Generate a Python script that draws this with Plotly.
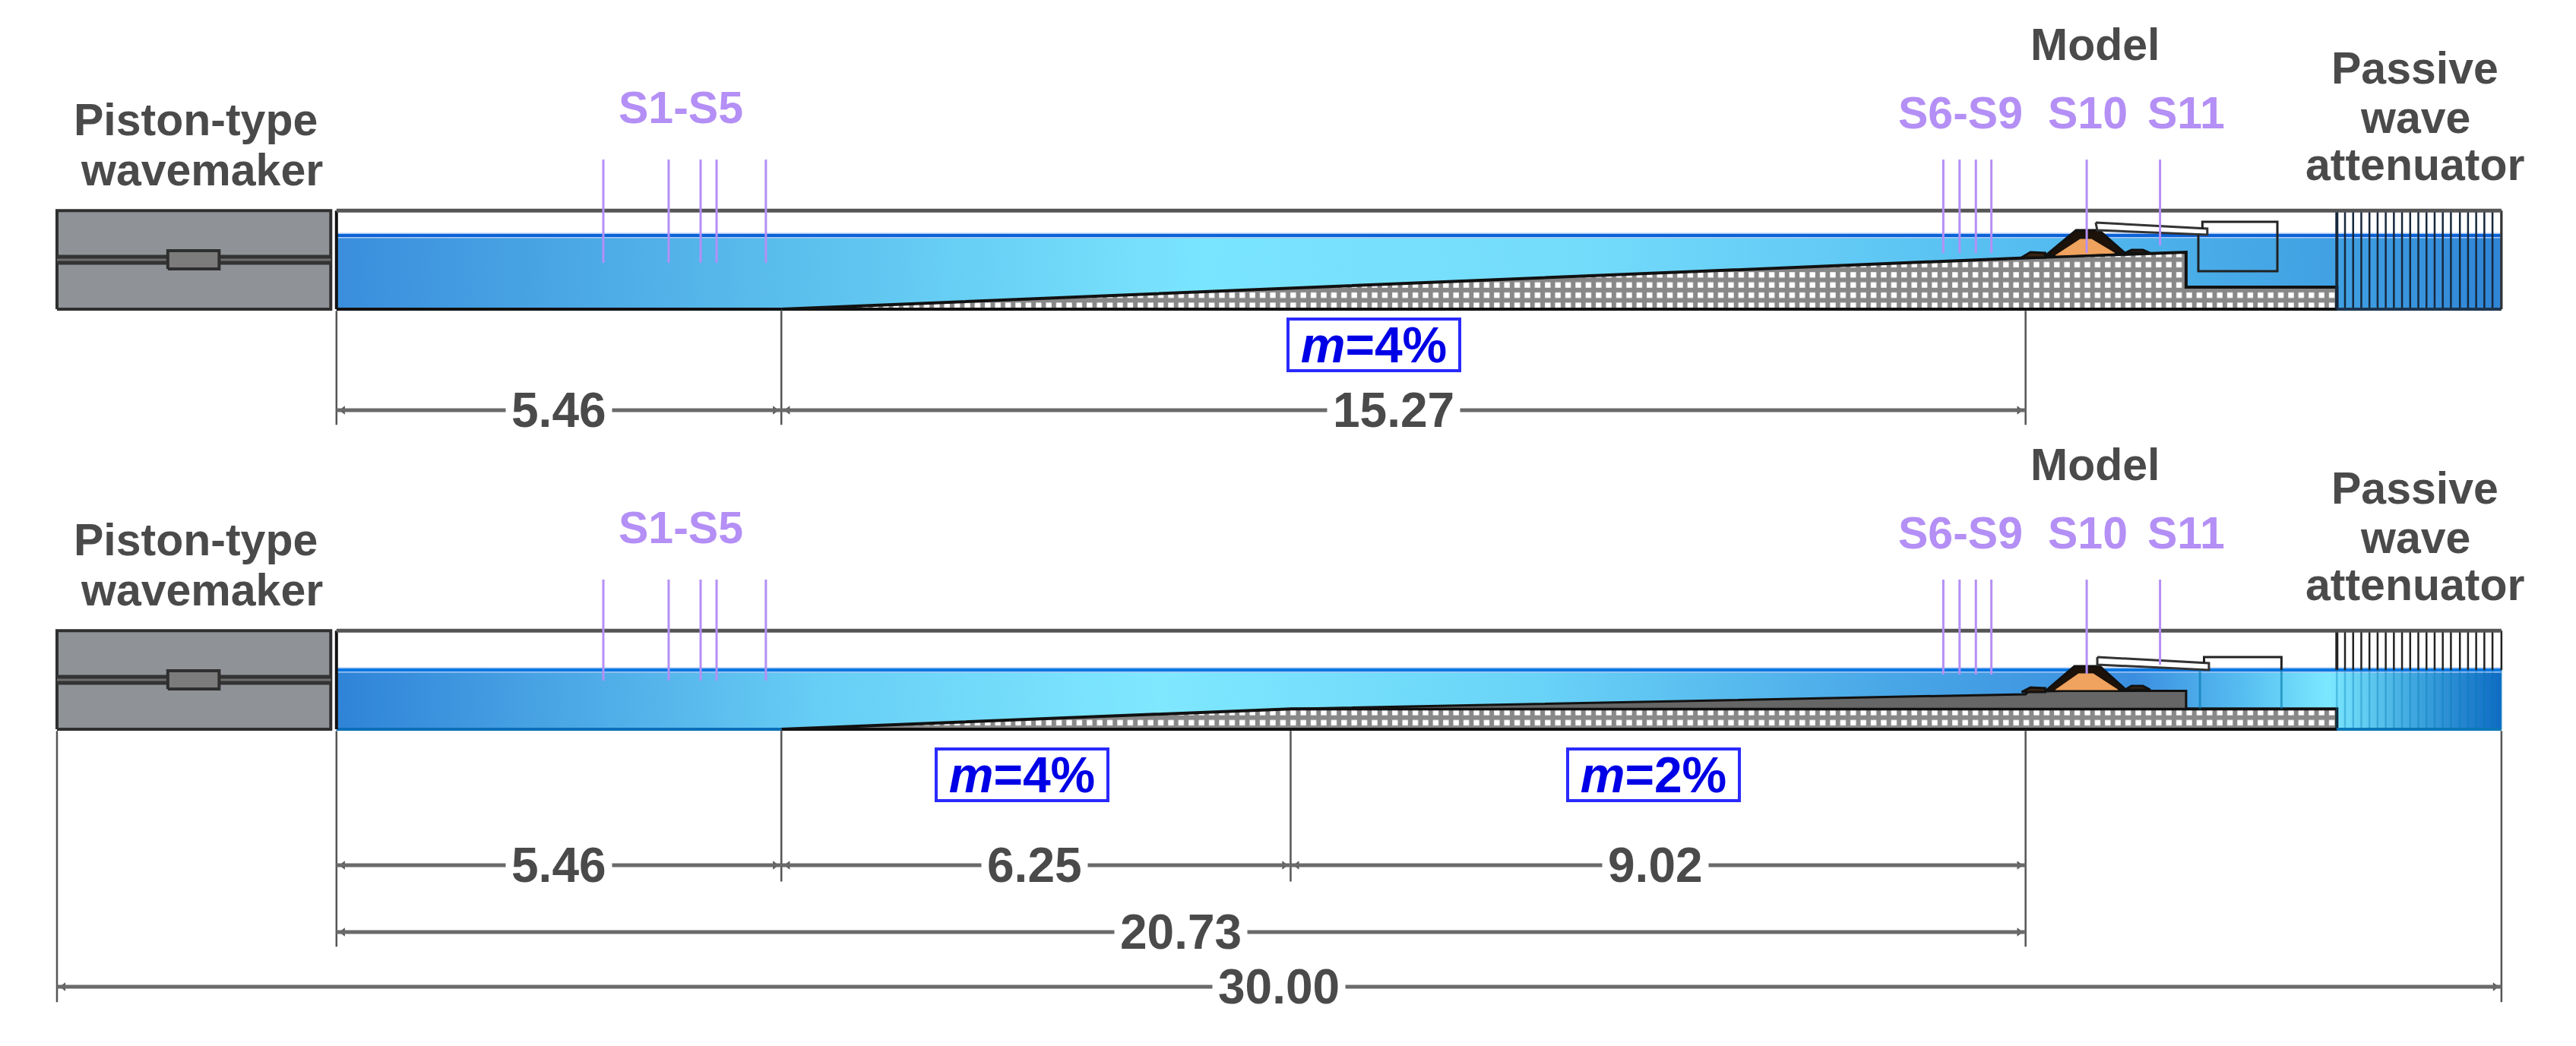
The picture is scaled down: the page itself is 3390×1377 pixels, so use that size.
import plotly.graph_objects as go

# all lengths in metres, z measured from the flume floor of each panel
FLUME_LEFT = 3.43
FLUME_RIGHT = 30.0
FLUME_TOP = 1.21
MAKER_RIGHT = 3.36
ATT_LEFT = 27.98
PANEL_SHIFT = [0.0, -5.157]

WATER_LEVEL = [0.905, 0.727]
WATER_STOPS = [
  [[0, "#3a8edc"], [0.2, "#59bdec"], [0.4, "#7ae5ff"], [0.57, "#74dcfb"], [0.78, "#55bdf0"],
   [0.93, "#3f9fe2"], [1, "#2f84d6"]],
  [[0, "#2f83d8"], [0.1, "#4aa5e4"], [0.22, "#66cdf5"], [0.38, "#7fe8ff"], [0.55, "#6ad4f8"],
   [0.72, "#48a6e6"], [0.83, "#3b8edf"], [0.88, "#56bdf0"], [0.92, "#7ce8ff"], [0.96, "#3fa6de"],
   [1, "#0f6bc4"]],
]

BED_X = [[8.89, 24.16, 26.13, 26.13, 27.98, 27.98, 8.89], [8.89, 15.14, 27.98, 27.98, 8.89]]
BED_Z = [[0, 0.63, 0.70, 0.27, 0.27, 0, 0], [0, 0.25, 0.25, 0, 0]]
SLAB_X = [15.14, 24.16, 24.2, 26.13, 26.13, 15.14]
SLAB_Z = [0.25, 0.43, 0.47, 0.47, 0.25, 0.25]

BERM_L_X = [24.11, 24.22, 24.40, 24.40]
BERM_L_Z = [[0.634, 0.70, 0.69, 0.634], [0.457, 0.513, 0.504, 0.457]]
BERM_R_X = [25.38, 25.46, 25.60, 25.69]
BERM_R_Z = [[0.69, 0.727, 0.727, 0.69], [0.485, 0.532, 0.532, 0.485]]
ARMOUR_X = [[24.40, 24.78, 25.06, 25.38], [24.40, 24.76, 25.07, 25.39]]
ARMOUR_Z = [[0.653, 0.97, 0.97, 0.69], [0.466, 0.774, 0.774, 0.485]]
CORE_X = [[24.53, 24.83, 24.97, 25.25], [24.53, 24.81, 24.99, 25.29]]
CORE_Z = [[0.662, 0.858, 0.858, 0.69], [0.485, 0.681, 0.681, 0.485]]
RAMP_X = [[25.02, 26.39, 26.39, 25.04], [25.04, 26.41, 26.41, 25.04]]
RAMP_Z = [[1.063, 0.989, 0.914, 0.97], [0.886, 0.811, 0.727, 0.793]]
TANK_X = [[26.33, 26.33, 27.25, 27.25, 26.28, 26.28], [26.35, 26.35, 27.30, 27.30]]
TANK_Z = [[0.99, 1.072, 1.072, 0.466, 0.466, 0.914], [0.811, 0.886, 0.886, 0.727]]
TANK_WET_X = [26.30, 27.30]

ATT_X = [27.98, 28.08, 28.18, 28.28, 28.38, 28.48, 28.58, 28.68, 28.78, 28.88, 28.98,
         29.08, 29.18, 29.28, 29.38, 29.49, 29.59, 29.69, 29.79, 29.89, 30.0]

ROD_Z = 0.606
PISTON_X = [1.36, 1.99]
PISTON_Z = [0.494, 0.718]

GAUGE_X = [6.705, 7.507, 7.899, 8.095, 8.70, 23.15, 23.35, 23.55, 23.74, 24.91, 25.81]
GAUGE_TOP = 1.837
GAUGE_BOTTOM = [
  [0.569, 0.569, 0.569, 0.569, 0.569, 0.69, 0.69, 0.69, 0.69, 0.69, 0.783],
  [0.597, 0.597, 0.597, 0.597, 0.597, 0.671, 0.671, 0.671, 0.671, 0.68, 0.793],
]

LABELS = ["Piston-type", "wavemaker", "Model", "Passive", "wave", "attenuator"]
LABEL_X = [1.70, 1.78, 25.01, 28.94, 28.94, 28.94]
LABEL_Z = [2.322, 1.707, 3.245, 2.956, 2.35, 1.772]
GAUGE_LABELS = ["S1-S5", "S6-S9", "S10", "S11"]
GAUGE_LABEL_X = [7.656, 23.36, 24.92, 26.13]
GAUGE_LABEL_Z = [2.471, 2.406, 2.406, 2.406]

# panel, start, end, level, label, label position
DIMS = [
  (0, 3.43, 8.89, -1.24, "5.46", 6.16),
  (0, 8.89, 24.16, -1.24, "15.27", 16.40),
  (1, 3.43, 8.89, -1.669, "5.46", 6.16),
  (1, 8.89, 15.14, -1.669, "6.25", 12.0),
  (1, 15.14, 24.16, -1.669, "9.02", 19.62),
  (1, 3.43, 24.16, -2.49, "20.73", 13.79),
  (1, 0.0, 30.0, -3.161, "30.00", 15.0),
]
# panel, x, bottom of the extension line
EXT_LINES = [(0, 3.43, -1.42), (0, 8.89, -1.42), (0, 24.16, -1.42),
             (1, 3.43, -2.67), (1, 8.89, -1.87), (1, 15.14, -1.87), (1, 24.16, -2.67),
             (1, 0.0, -3.35), (1, 30.0, -3.35)]
# panel, centre x, centre z, text
SLOPES = [(0, 16.16, -0.44, "4%"), (1, 11.84, -0.56, "4%"), (1, 19.59, -0.56, "2%")]

TEXT_GREY = "#4a4a4a"
GAUGE_PURPLE = "#b48ff5"
FONT = "Liberation Sans"

fig = go.Figure()


def line(x, y, color, width):
  fig.add_trace(go.Scatter(x=x, y=y, mode="lines", line=dict(color=color, width=width),
                           hoverinfo="skip", showlegend=False))


def poly(x, y, fill, color="#111111", width=3):
  fig.add_trace(go.Scatter(x=list(x) + [x[0]], y=list(y) + [y[0]], mode="lines", fill="toself",
                           fillcolor=fill, line=dict(color=color, width=width),
                           hoverinfo="skip", showlegend=False))


def label(x, y, text, size, color, bg=None, pad=1):
  fig.add_annotation(x=x, y=y, text="<b>" + text + "</b>", showarrow=False, xanchor="center",
                     yanchor="middle", bgcolor=bg, borderpad=pad,
                     font=dict(family=FONT, size=size, color=color))


for p, dz in enumerate(PANEL_SHIFT):
  level = WATER_LEVEL[p]

  # water body
  fig.add_trace(go.Scatter(
    x=[FLUME_LEFT, FLUME_RIGHT, FLUME_RIGHT, FLUME_LEFT, FLUME_LEFT],
    y=[dz, dz, dz + level, dz + level, dz],
    mode="lines", line=dict(width=0), fill="toself",
    fillgradient=dict(type="horizontal", colorscale=WATER_STOPS[p]),
    hoverinfo="skip", showlegend=False))

  # mesh fill of the bed
  fig.add_trace(go.Scatter(
    x=BED_X[p], y=[z + dz for z in BED_Z[p]], mode="lines", fill="toself",
    fillcolor="white", line=dict(color="#111111", width=4),
    fillpattern=dict(shape="+", size=13.4, solidity=0.7, fgcolor="#111111", bgcolor="white"),
    hoverinfo="skip", showlegend=False))
  if p == 1:
    poly(SLAB_X, [z + dz for z in SLAB_Z], "#666666", width=3)

  # water surface and floor lines
  surface = "#0b62d6" if p == 0 else "#0a78e0"
  line([FLUME_LEFT, FLUME_RIGHT], [dz + level, dz + level], "#a9c8f5", 7)
  line([FLUME_LEFT, FLUME_RIGHT], [dz + level, dz + level], surface, 4)
  floor = "#111111" if p == 0 else "#0b6fb8"
  line([FLUME_LEFT, 8.89], [dz, dz], floor, 4)

  # breakwater
  poly(BERM_L_X, [z + dz for z in BERM_L_Z[p]], "#3a2412", width=3)
  poly(BERM_R_X, [z + dz for z in BERM_R_Z[p]], "#3a2412", width=3)
  poly(ARMOUR_X[p], [z + dz for z in ARMOUR_Z[p]], "#1c120a", width=3)
  poly(CORE_X[p], [z + dz for z in CORE_Z[p]], "#f0a35e", color="#f0a35e", width=1)

  # overtopping ramp and tank
  poly(RAMP_X[p], [z + dz for z in RAMP_Z[p]], "white", color="#333333", width=3)
  line(TANK_X[p], [z + dz for z in TANK_Z[p]], "#222222", 3)
  if p == 1:
    for x in TANK_WET_X:
      line([x, x], [dz + 0.25, dz + level], "rgba(0,120,170,0.6)", 3)

  # attenuator bars
  for i, x in enumerate(ATT_X):
    if p == 0:
      line([x, x], [dz, dz + FLUME_TOP], "#16283c", 4 if i == 0 else 2.5)
    else:
      line([x, x], [dz + level, dz + FLUME_TOP], "#222222", 4 if i == 0 else 2.5)
      line([x, x], [dz, dz + level], "rgba(0,120,180,0.35)", 2.5)
  att_floor = "#1d3550" if p == 0 else "#0c78b8"
  line([ATT_LEFT, FLUME_RIGHT], [dz, dz], att_floor, 4)
  if p == 0:
    line([FLUME_RIGHT, FLUME_RIGHT], [dz, dz + FLUME_TOP], "#333333", 3)

  # wavemaker
  poly([0, MAKER_RIGHT, MAKER_RIGHT, 0], [dz, dz, dz + FLUME_TOP, dz + FLUME_TOP], "#8f9397",
       color="#2f2f2f", width=4)
  line([0, MAKER_RIGHT], [dz + ROD_Z, dz + ROD_Z], "#333333", 13)
  line([0, MAKER_RIGHT], [dz + ROD_Z, dz + ROD_Z], "#6e6e6e", 3)
  poly([PISTON_X[0], PISTON_X[1], PISTON_X[1], PISTON_X[0]],
       [dz + PISTON_Z[0], dz + PISTON_Z[0], dz + PISTON_Z[1], dz + PISTON_Z[1]],
       "#7c7c7c", color="#2f2f2f", width=4)
  line([FLUME_LEFT, FLUME_LEFT], [dz, dz + FLUME_TOP], "#111111", 4)

  # top rail
  line([FLUME_LEFT, FLUME_RIGHT], [dz + FLUME_TOP, dz + FLUME_TOP], "#555555", 5)

  # wave gauges
  for x, bottom in zip(GAUGE_X, GAUGE_BOTTOM[p]):
    line([x, x], [dz + bottom, dz + GAUGE_TOP], GAUGE_PURPLE, 3)

  for t, x, z in zip(LABELS, LABEL_X, LABEL_Z):
    label(x, z + dz, t, 59, TEXT_GREY)
  for t, x, z in zip(GAUGE_LABELS, GAUGE_LABEL_X, GAUGE_LABEL_Z):
    label(x, z + dz, t, 59, GAUGE_PURPLE)

for p, x, bottom in EXT_LINES:
  dz = PANEL_SHIFT[p]
  line([x, x], [dz - 0.02, dz + bottom], "#555555", 2.5)

for p, x0, x1, z, text, lx in DIMS:
  dz = PANEL_SHIFT[p]
  fig.add_trace(go.Scatter(
    x=[x0 + 0.08, x1 - 0.08], y=[dz + z, dz + z], mode="markers",
    marker=dict(symbol=["triangle-left", "triangle-right"], size=10, color="#555555"),
    hoverinfo="skip", showlegend=False))
  line([x0, x1], [dz + z, dz + z], "#6a6a6a", 5)
  label(lx, dz + z, text, 64, TEXT_GREY, bg="white", pad=7)

for p, x, z, text in SLOPES:
  fig.add_annotation(x=x, y=PANEL_SHIFT[p] + z, text="<b><i>m</i>=" + text + "</b>", showarrow=False,
                     width=222, height=64, align="center", valign="middle", bgcolor="white",
                     bordercolor="#2a2aff", borderwidth=4, borderpad=0,
                     font=dict(family=FONT, size=66, color="#0000e6"))

fig.update_layout(
  width=3390, height=1377, margin=dict(l=0, r=0, t=0, b=0),
  paper_bgcolor="white", plot_bgcolor="white", showlegend=False,
  xaxis=dict(range=[-0.6994, 30.915], visible=False, fixedrange=True),
  yaxis=dict(range=[-9.046, 3.796], visible=False, fixedrange=True),
)

fig.write_html("out.html", config=dict(displayModeBar=False),
               post_script="document.body.style.margin='0';")
